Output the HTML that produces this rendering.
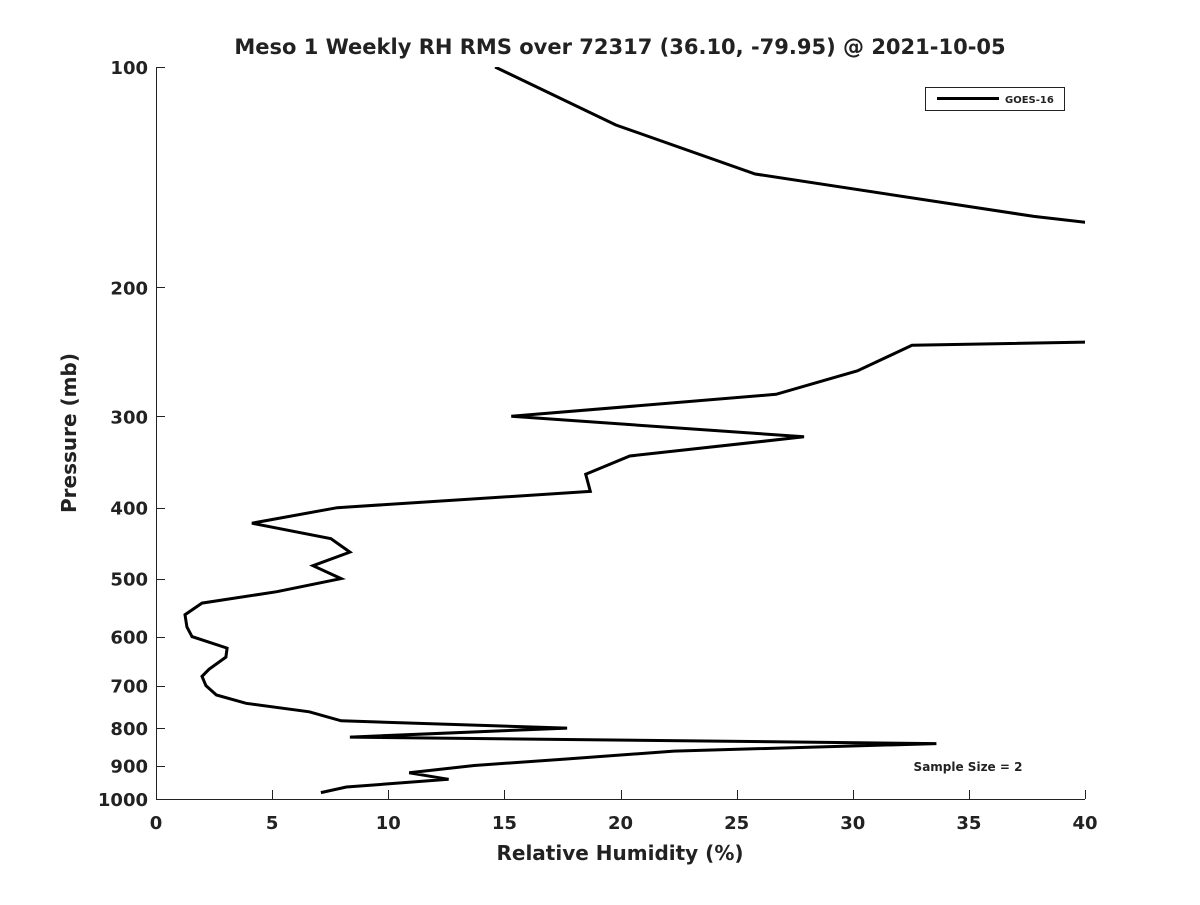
<!DOCTYPE html>
<html><head><meta charset="utf-8"><style>
body{margin:0;background:#fff;}
svg text{font-family:"DejaVu Sans","Liberation Sans",sans-serif;font-weight:bold;fill:#222;}
</style></head><body>
<svg id="chart" width="1200" height="900">
<defs><clipPath id="clip"><rect x="156" y="67" width="929" height="732"/></clipPath></defs>
<text x="620" y="54" text-anchor="middle" font-size="21">Meso 1 Weekly RH RMS over 72317 (36.10, -79.95) @ 2021-10-05</text>
<g id="axes"></g>
<text x="620" y="860" text-anchor="middle" font-size="20">Relative Humidity (%)</text>
<text transform="translate(76,433) rotate(-90)" text-anchor="middle" font-size="20">Pressure (mb)</text>
<g>
<rect x="925.5" y="87.5" width="139" height="23" fill="#fff" stroke="#222" stroke-width="1"/>
<line x1="937" y1="98.5" x2="999" y2="98.5" stroke="#000" stroke-width="3"/>
<text x="1005" y="103" font-size="10">GOES-16</text>
</g>
<text x="968" y="771" text-anchor="middle" font-size="12">Sample Size = 2</text>
</svg>
<script>
const rhValues=[14.6,19.8,25.8,37.8,45,45,32.55,30.2,26.7,15.3,27.9,20.4,18.5,18.7,7.8,4.13,7.53,8.35,6.76,7.97,5.2,1.98,1.25,1.33,1.55,3.06,3.01,2.28,1.98,2.15,2.6,3.88,6.6,7.97,17.7,8.35,33.6,22.3,17.6,13.7,10.9,12.6,8.2,7.1];
const pressures=[100,120,140,160,170,236,240,260,280,300,320,340,360,380,400,420,441,460,480,500,521,540,560,582,600,622,640,665,680,700,721,740,760,782,800,823,840,860,882,900,921,940,963,980];
const xTicks=[0,5,10,15,20,25,30,35,40];
const yTicks=[100,200,300,400,500,600,700,800,900,1000];
const NS='http://www.w3.org/2000/svg';
const X=v=>156+(v-0)/40*929;
const Y=p=>67+(Math.log10(p)-2)*732;
const svg=document.getElementById('chart');
const axes=document.getElementById('axes');
function mk(t,a){const e=document.createElementNS(NS,t);for(const k in a)e.setAttribute(k,a[k]);return e;}
const xl=mk('line',{x1:156,y1:799.5,x2:1085,y2:799.5,stroke:'#222','stroke-width':1});


axes.appendChild(xl);
const yl=mk('line',{x1:156.5,y1:67,x2:156.5,y2:799,stroke:'#222','stroke-width':1});


axes.appendChild(yl);
xTicks.forEach(v=>{
 const x=Math.round(X(v))+0.5;
 const t=mk('line',{x1:x,y1:799,x2:x,y2:790,stroke:'#222'});
 
 
 axes.appendChild(t);
 const l=mk('text',{x:X(v),y:829,'text-anchor':'middle','font-size':18});
 l.textContent=v;
 
 
 axes.appendChild(l);
});
yTicks.forEach(p=>{
 const y=Math.round(Y(p))+0.5;
 const t=mk('line',{x1:156,y1:y,x2:165,y2:y,stroke:'#222'});
 
 
 axes.appendChild(t);
 const l=mk('text',{x:148,y:Y(p)+7,'text-anchor':'end','font-size':18});
 l.textContent=p;
 
 
 axes.appendChild(l);
});
const pts=rhValues.map((v,i)=>X(v).toFixed(1)+','+Y(pressures[i]).toFixed(1)).join(' ');
const line=mk('polyline',{points:pts,fill:'none',stroke:'#000','stroke-width':3,'stroke-linejoin':'miter','clip-path':'url(#clip)'});


svg.appendChild(line);
</script>
</body></html>
